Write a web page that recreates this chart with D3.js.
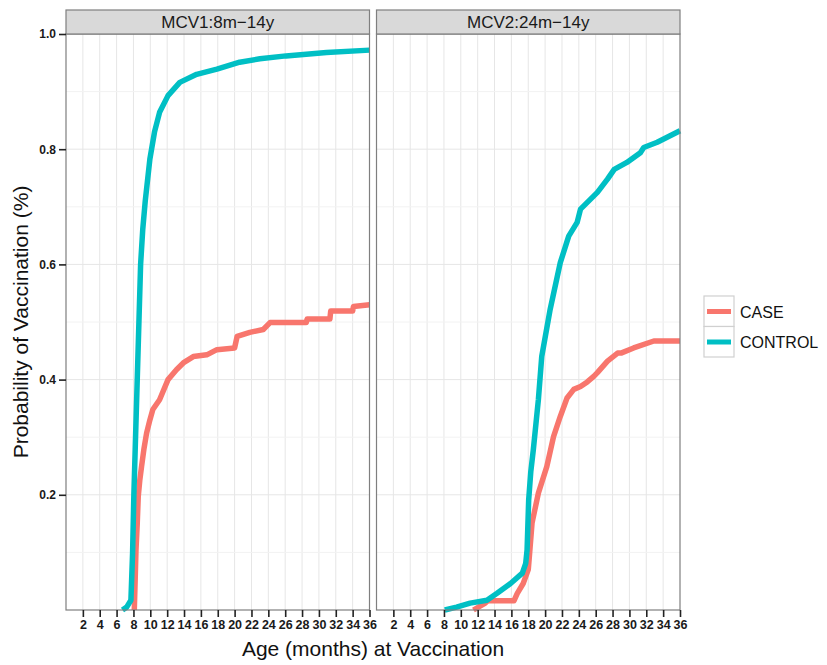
<!DOCTYPE html>
<html>
<head>
<meta charset="utf-8">
<script src="https://cdnjs.cloudflare.com/ajax/libs/d3/7.8.5/d3.min.js"></script>
<style>
    html, body { margin: 0; padding: 0; background: #fff; }
    svg { display: block; font-family: "Liberation Sans", Arial, sans-serif; }
</style>
</head>
<body>
<div id="chart"></div>
<script>
// facet titles and groups
var panels = ['MCV1:8m\u221214y', 'MCV2:24m\u221214y'];
var groups = ['CASE', 'CONTROL'];
var monthTicks = [2, 4, 6, 8, 10, 12, 14, 16, 18, 20, 22, 24, 26, 28, 30, 32, 34, 36];
var probTicks = [0.2, 0.4, 0.6, 0.8, 1.0];
var probMinor = [0.1, 0.3, 0.5, 0.7, 0.9];

// [month, probability]
var mcv1Case = [[8.1, 0], [8.2, 0.05], [8.3, 0.104], [8.45, 0.15], [8.57, 0.197], [8.75, 0.225],
    [8.96, 0.249], [9.25, 0.28], [9.56, 0.307], [9.95, 0.33], [10.3, 0.348], [11.1, 0.365],
    [12.1, 0.4], [13.1, 0.417], [14.0, 0.43], [15.1, 0.44], [16.7, 0.443], [17.9, 0.452],
    [20.0, 0.455], [20.3, 0.475], [21.8, 0.482], [23.4, 0.487], [24.2, 0.499], [28.5, 0.499],
    [28.6, 0.505], [31.3, 0.505], [31.4, 0.519], [34.0, 0.519], [34.1, 0.527], [36, 0.53]];
var mcv1Control = [[6.7, 0], [7.2, 0.005], [7.7, 0.017], [7.9, 0.1], [8.05, 0.2], [8.25, 0.3],
    [8.45, 0.4], [8.65, 0.5], [8.85, 0.6], [9.1, 0.66], [9.4, 0.71], [9.95, 0.783], [10.5, 0.83],
    [11.1, 0.864], [12.1, 0.893], [13.5, 0.916], [15.5, 0.93], [17.9, 0.939], [20.6, 0.951],
    [23.0, 0.957], [26.1, 0.962], [30.9, 0.968], [36, 0.972]];
var mcv2Case = [[11.5, 0], [12.9, 0.012], [13.2, 0.016], [16.3, 0.016], [16.7, 0.029], [17.4, 0.046],
    [18.0, 0.07], [18.1, 0.087], [18.45, 0.151], [19.2, 0.203], [20.2, 0.249], [21.0, 0.301],
    [21.8, 0.336], [22.6, 0.368], [23.4, 0.383], [24.2, 0.388], [25.0, 0.396], [25.8, 0.406],
    [26.2, 0.412], [27.4, 0.432], [28.6, 0.446], [29.0, 0.446], [30.5, 0.455], [32.9, 0.467], [36, 0.467]];
var mcv2Control = [[8.1, 0], [9.5, 0.005], [11.1, 0.012], [13.1, 0.017], [14.3, 0.029], [15.9, 0.046],
    [17.3, 0.064], [17.7, 0.081], [17.86, 0.104], [18.05, 0.191], [18.3, 0.24], [18.6, 0.278],
    [19.2, 0.365], [19.6, 0.44], [20.6, 0.522], [21.8, 0.603], [22.8, 0.649], [23.8, 0.673],
    [24.2, 0.696], [26.2, 0.725], [27.4, 0.748], [28.2, 0.765], [29.7, 0.777], [31.3, 0.794],
    [31.7, 0.803], [33.3, 0.812], [36, 0.832]];

(function (d3) {
    'use strict';

    var colors = { CASE: '#F8766D', CONTROL: '#00BFC4' };
    var series = [
        { CASE: mcv1Case, CONTROL: mcv1Control },
        { CASE: mcv2Case, CONTROL: mcv2Control }
    ];

    var width = 827, height = 665,
        top = 34, bottom = 610,
        stripH = 24,
        panelX = [66, 376.5],
        panelW = 303.5;

    var svg = d3.select('#chart').append('svg')
        .attr('width', width)
        .attr('height', height);

    var y = d3.scaleLinear().domain([0, 1]).range([bottom, top]);

    var line = d3.line()
        .x(function (d) { return d[0]; })
        .y(function (d) { return d[1]; });

    panels.forEach(function (title, i) {
        var x = d3.scaleLinear().domain([0, 36]).range([panelX[i], panelX[i] + panelW]);
        var g = svg.append('g');

        // grid
        g.selectAll('line.vgrid')
            .data(monthTicks.slice(0, -1))
            .enter().append('line')
            .attr('x1', function (d) { return x(d); })
            .attr('x2', function (d) { return x(d); })
            .attr('y1', top).attr('y2', bottom)
            .attr('stroke', '#e6e6e6').attr('stroke-width', 1);

        g.selectAll('line.hminor')
            .data(probMinor)
            .enter().append('line')
            .attr('x1', x(0)).attr('x2', x(36))
            .attr('y1', function (d) { return y(d); })
            .attr('y2', function (d) { return y(d); })
            .attr('stroke', '#f2f2f2').attr('stroke-width', 1);

        g.selectAll('line.hmajor')
            .data(probTicks.slice(0, -1))
            .enter().append('line')
            .attr('x1', x(0)).attr('x2', x(36))
            .attr('y1', function (d) { return y(d); })
            .attr('y2', function (d) { return y(d); })
            .attr('stroke', '#e6e6e6').attr('stroke-width', 1);

        // curves
        groups.forEach(function (grp) {
            g.append('path')
                .datum(series[i][grp].map(function (d) { return [x(d[0]), y(d[1])]; }))
                .attr('d', line)
                .attr('fill', 'none')
                .attr('stroke', colors[grp])
                .attr('stroke-width', 5.5)
                .attr('stroke-linejoin', 'round');
        });

        // border
        g.append('rect')
            .attr('x', x(0)).attr('y', top)
            .attr('width', panelW).attr('height', bottom - top)
            .attr('fill', 'none').attr('stroke', '#7f7f7f').attr('stroke-width', 1.2);

        // strip
        g.append('rect')
            .attr('x', x(0)).attr('y', top - stripH)
            .attr('width', panelW).attr('height', stripH)
            .attr('fill', '#d9d9d9').attr('stroke', '#7f7f7f').attr('stroke-width', 1.2);
        g.append('text')
            .attr('x', x(18)).attr('y', top - 6)
            .attr('text-anchor', 'middle')
            .attr('font-size', 17)
            .attr('fill', '#1a1a1a')
            .text(title);

        // x axis
        var xAxis = d3.axisBottom(x).tickValues(monthTicks).tickSize(7).tickPadding(3);
        var ax = g.append('g')
            .attr('transform', 'translate(0,' + bottom + ')')
            .call(xAxis);
        ax.select('.domain').remove();
        ax.selectAll('line').attr('stroke', '#222').attr('stroke-width', 1.6);
        ax.selectAll('text')
            .attr('font-size', 12.5).attr('font-weight', 'bold')
            .attr('fill', '#1a1a1a')
            .style('font-family', '"Liberation Sans", Arial, sans-serif');

        if (i === 0) {
            var yAxis = d3.axisLeft(y).tickValues(probTicks).tickSize(7).tickPadding(3)
                .tickFormat(d3.format('.1f'));
            var ay = g.append('g')
                .attr('transform', 'translate(' + x(0) + ',0)')
                .call(yAxis);
            ay.select('.domain').remove();
            ay.selectAll('line').attr('stroke', '#222').attr('stroke-width', 1.6);
            ay.selectAll('text')
                .attr('font-size', 12).attr('font-weight', 'bold')
                .attr('fill', '#1a1a1a')
                .style('font-family', '"Liberation Sans", Arial, sans-serif');
        }
    });

    // axis titles
    svg.append('text')
        .attr('x', (panelX[0] + panelX[1] + panelW) / 2)
        .attr('y', 656)
        .attr('text-anchor', 'middle')
        .attr('font-size', 21)
        .attr('fill', '#111')
        .text('Age (months) at Vaccination');

    svg.append('text')
        .attr('transform', 'translate(28,' + (top + bottom) / 2 + ') rotate(-90)')
        .attr('text-anchor', 'middle')
        .attr('font-size', 21)
        .attr('fill', '#111')
        .text('Probability of Vaccination (%)');

    // legend
    var legend = svg.append('g').attr('transform', 'translate(704,296)');
    groups.forEach(function (grp, k) {
        var key = legend.append('g').attr('transform', 'translate(0,' + (k * 30.5) + ')');
        key.append('rect')
            .attr('width', 30).attr('height', 30.5)
            .attr('fill', '#fff').attr('stroke', '#d0d0d0').attr('stroke-width', 1.2);
        key.append('line')
            .attr('x1', 3).attr('x2', 27)
            .attr('y1', 15.5).attr('y2', 15.5)
            .attr('stroke', colors[grp]).attr('stroke-width', 5);
        key.append('text')
            .attr('x', 36).attr('y', 21.5)
            .attr('font-size', 16)
            .attr('fill', '#111')
            .text(grp);
    });

})(d3);
</script>
</body>
</html>
